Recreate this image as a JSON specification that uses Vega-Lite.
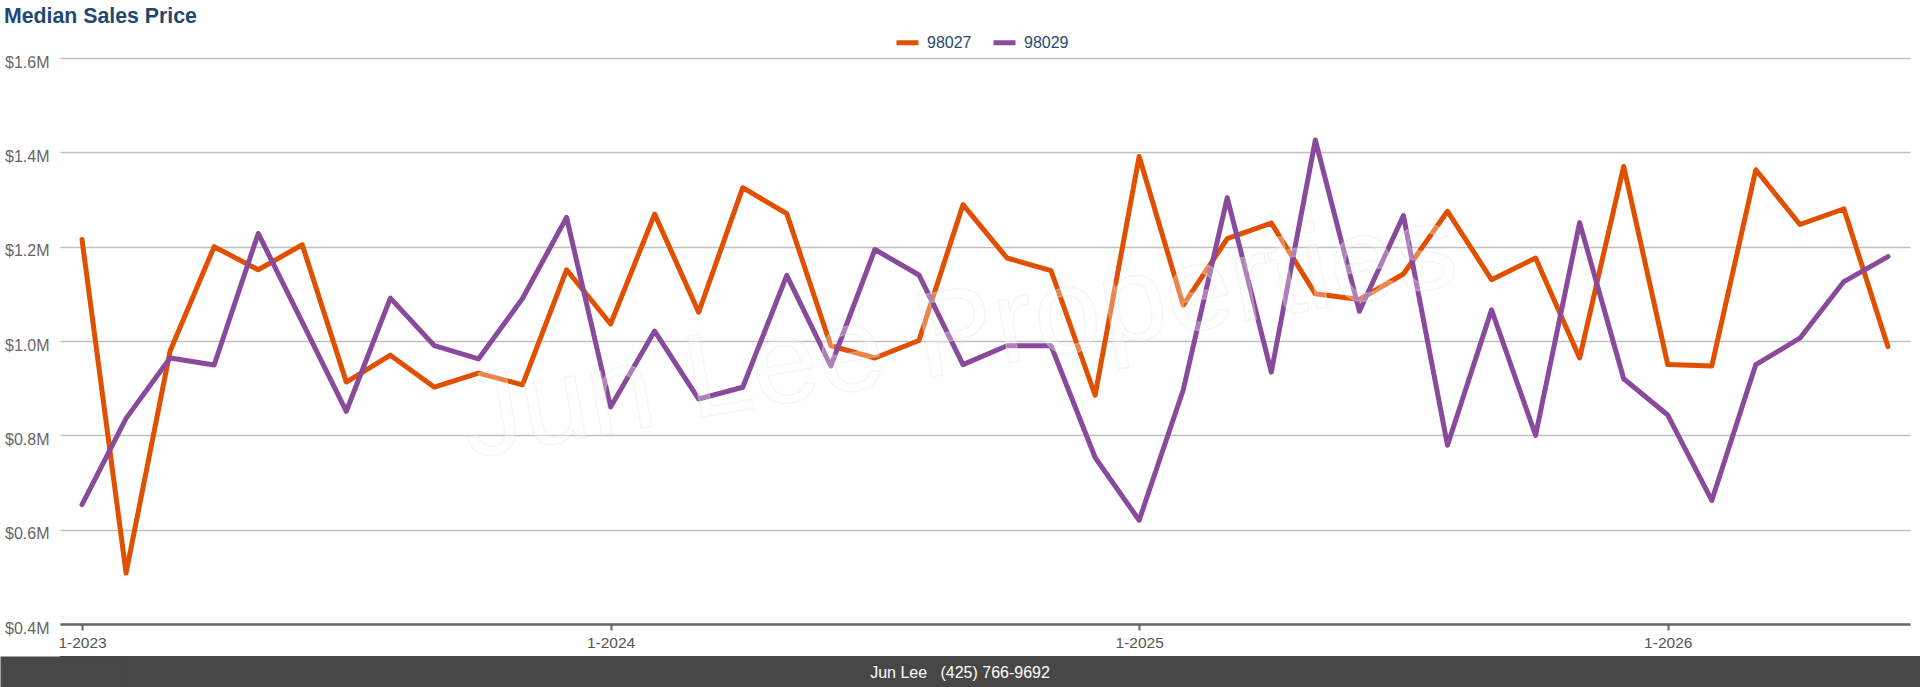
{
  "$schema": "https://vega.github.io/schema/vega-lite/v6.json",
  "padding": {"top": 5, "left": 0, "right": 0, "bottom": 0},
  "spacing": 0,
  "bounds": "full",
  "config": {
    "font": "Liberation Sans",
    "view": {"stroke": null}
  },
  "vconcat": [
    {
      "width": 1850,
      "height": 566,
      "title": {
        "text": "Median Sales Price",
        "anchor": "start",
        "frame": "bounds",
        "fontSize": 21.3,
        "fontWeight": "bold",
        "color": "#1f4872",
        "dx": 4,
        "offset": 27
      },
      "data": {
        "values": [
          {"month": "1-2023", "98027": 1215000, "98029": 653000},
          {"month": "2-2023", "98027": 508000, "98029": 836000},
          {"month": "3-2023", "98027": 979000, "98029": 964000},
          {"month": "4-2023", "98027": 1200000, "98029": 949000},
          {"month": "5-2023", "98027": 1151000, "98029": 1228000},
          {"month": "6-2023", "98027": 1204000, "98029": 1040000},
          {"month": "7-2023", "98027": 913000, "98029": 851000},
          {"month": "8-2023", "98027": 970000, "98029": 1091000},
          {"month": "9-2023", "98027": 902000, "98029": 990000},
          {"month": "10-2023", "98027": 932000, "98029": 962000},
          {"month": "11-2023", "98027": 907000, "98029": 1090000},
          {"month": "12-2023", "98027": 1151000, "98029": 1262000},
          {"month": "1-2024", "98027": 1036000, "98029": 860000},
          {"month": "2-2024", "98027": 1269000, "98029": 1021000},
          {"month": "3-2024", "98027": 1061000, "98029": 877000},
          {"month": "4-2024", "98027": 1325000, "98029": 902000},
          {"month": "5-2024", "98027": 1270000, "98029": 1139000},
          {"month": "6-2024", "98027": 990000, "98029": 947000},
          {"month": "7-2024", "98027": 964000, "98029": 1194000},
          {"month": "8-2024", "98027": 1001000, "98029": 1140000},
          {"month": "9-2024", "98027": 1289000, "98029": 950000},
          {"month": "10-2024", "98027": 1176000, "98029": 990000},
          {"month": "11-2024", "98027": 1149000, "98029": 990000},
          {"month": "12-2024", "98027": 885000, "98029": 753000},
          {"month": "1-2025", "98027": 1391000, "98029": 620000},
          {"month": "2-2025", "98027": 1076000, "98029": 896000},
          {"month": "3-2025", "98027": 1217000, "98029": 1304000},
          {"month": "4-2025", "98027": 1250000, "98029": 934000},
          {"month": "5-2025", "98027": 1100000, "98029": 1426000},
          {"month": "6-2025", "98027": 1088000, "98029": 1063000},
          {"month": "7-2025", "98027": 1142000, "98029": 1266000},
          {"month": "8-2025", "98027": 1275000, "98029": 779000},
          {"month": "9-2025", "98027": 1130000, "98029": 1066000},
          {"month": "10-2025", "98027": 1176000, "98029": 800000},
          {"month": "11-2025", "98027": 964000, "98029": 1251000},
          {"month": "12-2025", "98027": 1370000, "98029": 920000},
          {"month": "1-2026", "98027": 950000, "98029": 843000},
          {"month": "2-2026", "98027": 947000, "98029": 662000},
          {"month": "3-2026", "98027": 1363000, "98029": 950000},
          {"month": "4-2026", "98027": 1247000, "98029": 1006000},
          {"month": "5-2026", "98027": 1280000, "98029": 1126000},
          {"month": "6-2026", "98027": 988000, "98029": 1179000}
        ]
      },
      "transform": [{"fold": ["98027", "98029"], "as": ["zip", "price"]}],
      "layer": [
        {
          "mark": {
            "type": "line",
            "strokeWidth": 5,
            "strokeCap": "round",
            "strokeJoin": "round"
          },
          "encoding": {
            "x": {
              "field": "month",
              "type": "ordinal",
              "sort": null,
              "scale": {"type": "point", "padding": 0.5},
              "axis": {
                "title": null,
                "values": ["1-2023", "1-2024", "1-2025", "1-2026"],
                "labelAngle": 0,
                "labelFontSize": 15.5,
                "labelColor": "#555555",
                "labelPadding": 5,
                "domainColor": "#666666",
                "domainWidth": 2.5,
                "tickColor": "#666666",
                "tickWidth": 2,
                "tickSize": 6,
                "grid": false,
                "minExtent": 31.3,
                "maxExtent": 31.3
              }
            },
            "y": {
              "field": "price",
              "type": "quantitative",
              "scale": {"domain": [400000, 1600000], "nice": false, "zero": false},
              "axis": {
                "title": null,
                "values": [400000, 600000, 800000, 1000000, 1200000, 1400000, 1600000],
                "labelExpr": "'$' + format(datum.value / 1000000, '.1f') + 'M'",
                "domain": false,
                "ticks": false,
                "tickSize": 0,
                "labelPadding": 11,
                "labelOffset": 4,
                "labelFontSize": 16,
                "labelColor": "#666666",
                "gridColor": "#c0c0c0",
                "gridWidth": 1.5,
                "minExtent": 60,
                "maxExtent": 60
              }
            },
            "color": {
              "field": "zip",
              "type": "nominal",
              "scale": {"domain": ["98027", "98029"], "range": ["#e05000", "#8a4a9c"]},
              "legend": {
                "title": null,
                "orient": "none",
                "legendX": 834,
                "legendY": -29,
                "direction": "horizontal",
                "symbolType": "stroke",
                "symbolStrokeWidth": 5,
                "symbolSize": 484,
                "labelFontSize": 16,
                "labelColor": "#27496d",
                "labelOffset": 6,
                "columnPadding": 11,
                "padding": 0
              }
            }
          }
        },
        {
          "data": {"values": [{"label": "Jun Lee Properties"}]},
          "mark": {
            "type": "text",
            "fontSize": 120,
            "angle": -10,
            "align": "center",
            "baseline": "middle",
            "dx": -25,
            "dy": -10,
            "fill": "#ffffff",
            "fillOpacity": 0.3,
            "stroke": "#e2e2e2",
            "strokeOpacity": 0.35,
            "strokeWidth": 1.5
          },
          "encoding": {"text": {"field": "label"}}
        }
      ]
    },
    {
      "width": 1860,
      "height": 33,
      "view": {"fill": "#474747", "stroke": null},
      "data": {"values": [{"contact": "Jun Lee\u00a0\u00a0 (425) 766-9692", "row": "footer"}]},
      "mark": {
        "type": "text",
        "color": "#ffffff",
        "fontSize": 16,
        "align": "center",
        "baseline": "middle",
        "dx": -30
      },
      "encoding": {
        "text": {"field": "contact"},
        "y": {
          "field": "row",
          "type": "nominal",
          "axis": {
            "title": null,
            "labels": false,
            "ticks": false,
            "grid": false,
            "domainColor": "#474747",
            "domainWidth": 120,
            "domainCap": "butt",
            "minExtent": 60,
            "maxExtent": 60
          }
        }
      }
    }
  ]
}
